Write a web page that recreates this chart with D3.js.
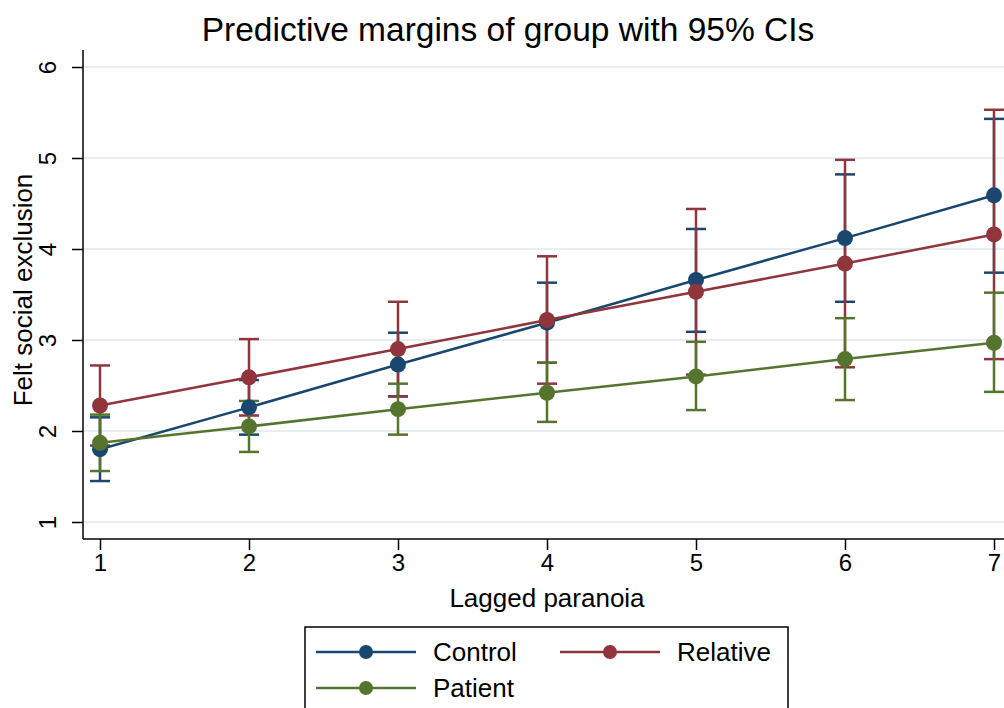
<!DOCTYPE html>
<html>
<head>
<meta charset="utf-8">
<script src="https://cdn.jsdelivr.net/npm/d3@7"></script>
<style>
  body { margin: 0; background: #fff; }
  svg { font-family: "Liberation Sans", Arial, Helvetica, sans-serif; display: block; }
</style>
</head>
<body>
<div id="viz-body"></div>
<script>
// Lagged paranoia values on the x axis
const lagged = [1, 2, 3, 4, 5, 6, 7];
const yTicks = [1, 2, 3, 4, 5, 6];

// Predictive margins and 95% CIs
const controlMean = [1.80, 2.26, 2.73, 3.19, 3.66, 4.12, 4.59];
const controlLow  = [1.45, 1.96, 2.38, 2.75, 3.09, 3.42, 3.74];
const controlHigh = [2.15, 2.56, 3.08, 3.63, 4.22, 4.82, 5.43];

const relativeMean = [2.28, 2.59, 2.90, 3.22, 3.53, 3.84, 4.16];
const relativeLow  = [1.84, 2.17, 2.38, 2.52, 2.62, 2.70, 2.79];
const relativeHigh = [2.72, 3.01, 3.42, 3.92, 4.44, 4.98, 5.53];

const patientMean = [1.87, 2.05, 2.24, 2.42, 2.60, 2.79, 2.97];
const patientLow  = [1.56, 1.77, 1.96, 2.10, 2.23, 2.34, 2.43];
const patientHigh = [2.18, 2.33, 2.52, 2.75, 2.98, 3.24, 3.52];

const groupNames = ["Control", "Relative", "Patient"];
const groupColors = ["#1a476f", "#90353b", "#55752f"];

const width = 1004, height = 708;

// build series from the arrays
const series = [
    { name: groupNames[0], mean: controlMean, low: controlLow, high: controlHigh },
    { name: groupNames[1], mean: relativeMean, low: relativeLow, high: relativeHigh },
    { name: groupNames[2], mean: patientMean, low: patientLow, high: patientHigh }
].map((s, i) => ({
    ...s,
    color: groupColors[i],
    pts: lagged.map((x, j) => ({ x: x, m: s.mean[j], lo: s.low[j], hi: s.high[j] }))
}));

// plot area
const plotLeft = 83, plotBottom = 539, plotRight = 1004;

let x = d3.scaleLinear().domain([1, 7]).range([100, 994]);
let y = d3.scaleLinear().domain([1, 6]).range([522, 67]);

let svg = d3.select("#viz-body")
    .append("svg")
    .attr("width", width)
    .attr("height", height)
    .attr("viewBox", [0, 0, width, height]);

// title
svg.append("text")
    .attr("x", 508).attr("y", 41)
    .attr("text-anchor", "middle")
    .style("font-size", "33.5px")
    .text("Predictive margins of group with 95% CIs");

// grid lines
svg.append("g")
    .selectAll("line")
    .data(yTicks)
    .join("line")
    .attr("x1", plotLeft).attr("x2", plotRight)
    .attr("y1", d => y(d)).attr("y2", d => y(d))
    .style("stroke", "#e6eef1")
    .style("stroke-width", 2);

// Y axis
let yAxis = svg.append("g")
    .attr("transform", "translate(" + plotLeft + ",0)")
    .call(d3.axisLeft(y).tickValues(yTicks).tickFormat(d3.format("d")).tickSizeOuter(0).tickSize(11).tickPadding(0));
yAxis.select(".domain").remove();
yAxis.append("line")
    .attr("x1", 0).attr("x2", 0)
    .attr("y1", 50).attr("y2", plotBottom)
    .style("stroke", "#000").style("stroke-width", 1.5);
yAxis.selectAll(".tick line").style("stroke-width", 1.5);
yAxis.selectAll(".tick text")
    .attr("x", null).attr("dy", null)
    .attr("transform", "translate(-35,0) rotate(-90)")
    .attr("text-anchor", "middle")
    .attr("dy", "0.35em")
    .style("font-size", "24px")
    .style("fill", "#000");

// X axis
let xAxis = svg.append("g")
    .attr("transform", "translate(0," + plotBottom + ")")
    .call(d3.axisBottom(x).tickValues(lagged).tickFormat(d3.format("d")).tickSizeOuter(0).tickSize(11).tickPadding(4));
xAxis.select(".domain").remove();
xAxis.append("line")
    .attr("x1", plotLeft).attr("x2", plotRight)
    .attr("y1", 0).attr("y2", 0)
    .style("stroke", "#000").style("stroke-width", 1.5);
xAxis.selectAll(".tick line").style("stroke-width", 1.5);
xAxis.selectAll(".tick text")
    .style("font-size", "24px")
    .style("fill", "#000");

// axis titles
svg.append("text")
    .attr("transform", "translate(32,290) rotate(-90)")
    .attr("text-anchor", "middle")
    .style("font-size", "26px")
    .text("Felt social exclusion");

svg.append("text")
    .attr("x", 547).attr("y", 607)
    .attr("text-anchor", "middle")
    .style("font-size", "26px")
    .text("Lagged paranoia");

// confidence intervals (rcap)
const capHalf = 10;
series.forEach(s => {
    let g = svg.append("g")
        .style("stroke", s.color)
        .style("stroke-width", 2.5);
    g.selectAll(".spike").data(s.pts).join("line")
        .attr("x1", d => x(d.x)).attr("x2", d => x(d.x))
        .attr("y1", d => y(d.lo)).attr("y2", d => y(d.hi));
    g.selectAll(".caplo").data(s.pts).join("line")
        .attr("x1", d => x(d.x) - capHalf).attr("x2", d => x(d.x) + capHalf)
        .attr("y1", d => y(d.lo)).attr("y2", d => y(d.lo));
    g.selectAll(".caphi").data(s.pts).join("line")
        .attr("x1", d => x(d.x) - capHalf).attr("x2", d => x(d.x) + capHalf)
        .attr("y1", d => y(d.hi)).attr("y2", d => y(d.hi));
});

// connected lines with markers
let marginLine = d3.line()
    .x(d => x(d.x))
    .y(d => y(d.m));

series.forEach(s => {
    svg.append("path")
        .attr("d", marginLine(s.pts))
        .style("fill", "none")
        .style("stroke", s.color)
        .style("stroke-width", 2.5);
    svg.append("g").selectAll("circle").data(s.pts).join("circle")
        .attr("cx", d => x(d.x))
        .attr("cy", d => y(d.m))
        .attr("r", 8)
        .style("fill", s.color);
});

// legend
let legend = svg.append("g");
legend.append("rect")
    .attr("x", 305).attr("y", 627)
    .attr("width", 483).attr("height", 100)
    .style("fill", "#fff")
    .style("stroke", "#000")
    .style("stroke-width", 1.5);

const legendPos = [[316, 652], [560, 652], [316, 688]];
series.forEach((s, i) => {
    let [lx, ly] = legendPos[i];
    legend.append("line")
        .attr("x1", lx).attr("x2", lx + 100)
        .attr("y1", ly).attr("y2", ly)
        .style("stroke", s.color).style("stroke-width", 2.5);
    legend.append("circle")
        .attr("cx", lx + 50).attr("cy", ly).attr("r", 7)
        .style("fill", s.color);
    legend.append("text")
        .attr("x", lx + 117).attr("y", ly)
        .attr("dy", "0.35em")
        .style("font-size", "26px")
        .text(s.name);
});
</script>
</body>
</html>
